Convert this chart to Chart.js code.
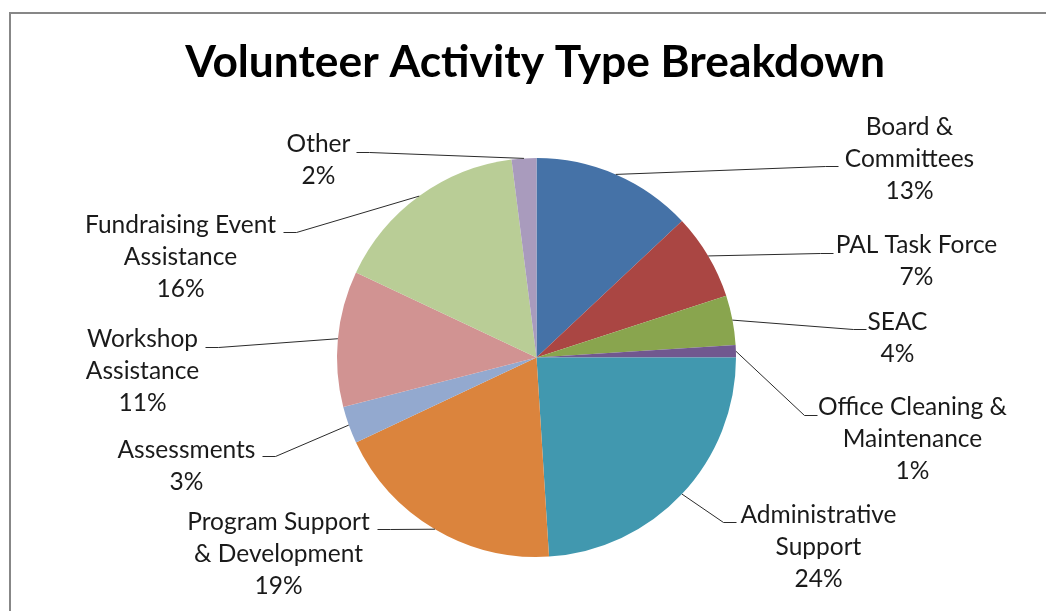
<!DOCTYPE html>
<html>
<head>
<meta charset="utf-8">
<script src="https://cdn.jsdelivr.net/npm/chart.js@4.4.1/dist/chart.umd.min.js"></script>
<style>
  html, body { margin: 0; padding: 0; background: #fff; }
  canvas { display: block; }
</style>
</head>
<body>
<canvas id="chart" width="1046" height="611"></canvas>
<script>
const chartTitle = 'Volunteer Activity Type Breakdown';

const categories = [
  ['Board &', 'Committees'],
  ['PAL Task Force'],
  ['SEAC'],
  ['Office Cleaning &', 'Maintenance'],
  ['Administrative', 'Support'],
  ['Program Support', '& Development'],
  ['Assessments'],
  ['Workshop', 'Assistance'],
  ['Fundraising Event', 'Assistance'],
  ['Other']
];

const shares = [13, 7, 4, 1, 24, 19, 3, 11, 16, 2];

const sliceColors = [
  '#4572A7', '#AA4643', '#89A54E', '#71588F', '#4198AF',
  '#DB843D', '#93A9CF', '#D19392', '#B9CD96', '#A99BBD'
];

// where each label sits, relative to the pie centre:
// tx/ty = centre of the first text line, sx/sy = end of the leader line
const labelSpots = [
  { tx: 373, ty: -230, sx: 302, sy: -191, side: 'right' },
  { tx: 380, ty: -112, sx: 297, sy: -104, side: 'right' },
  { tx: 361, ty: -35, sx: 330, sy: -28, side: 'right' },
  { tx: 376, ty: 50, sx: 281, sy: 58, side: 'right' },
  { tx: 282, ty: 158, sx: 200, sy: 165, side: 'right' },
  { tx: -258, ty: 165, sx: -159, sy: 172, side: 'left' },
  { tx: -350, ty: 93, sx: -274, sy: 99, side: 'left' },
  { tx: -394, ty: -18, sx: -331, sy: -10, side: 'left' },
  { tx: -356, ty: -132, sx: -253, sy: -125, side: 'left' },
  { tx: -218, ty: -213, sx: -180, sy: -205, side: 'left' }
];

const FONT = 'Lato, "Open Sans", sans-serif';

function fitSize(text, weight, width) {
  const c = document.createElement('canvas').getContext('2d');
  c.font = weight + ' 100px ' + FONT;
  return 100 * width / c.measureText(text).width;
}

const titleSize = fitSize(chartTitle, 'bold', 700);
const labelSize = fitSize('Office Cleaning &', 'normal', 189);

// white page, grey frame (cut off at right/bottom like the original) and the title
const frame = {
  id: 'frame',
  beforeDraw(chart) {
    const ctx = chart.ctx;
    ctx.save();
    ctx.fillStyle = '#fff';
    ctx.fillRect(0, 0, chart.width, chart.height);
    ctx.strokeStyle = '#878787';
    ctx.lineWidth = 2;
    ctx.strokeRect(10, 13, 1200, 800);
    ctx.fillStyle = '#000';
    ctx.font = 'bold ' + titleSize + 'px ' + FONT;
    ctx.textAlign = 'center';
    ctx.textBaseline = 'alphabetic';
    ctx.fillText(chartTitle, 535, 77);
    ctx.restore();
  }
};

const leaderLabels = {
  id: 'leaderLabels',
  afterDatasetsDraw(chart) {
    const ctx = chart.ctx;
    const total = shares.reduce((a, b) => a + b, 0);
    const arcs = chart.getDatasetMeta(0).data;
    ctx.save();
    arcs.forEach((arc, i) => {
      const p = arc.getProps(['x', 'y', 'startAngle', 'endAngle', 'outerRadius'], true);
      const mid = (p.startAngle + p.endAngle) / 2;
      const ax = p.x + Math.cos(mid) * p.outerRadius;
      const ay = p.y + Math.sin(mid) * p.outerRadius;
      const spot = labelSpots[i];
      const sx = p.x + spot.sx;
      const sy = p.y + spot.sy;
      const ex = sx + (spot.side === 'right' ? -13 : 13);

      ctx.strokeStyle = '#2b2b2b';
      ctx.lineWidth = 1;
      ctx.beginPath();
      ctx.moveTo(ax, ay);
      ctx.lineTo(ex, sy);
      ctx.lineTo(sx, sy);
      ctx.stroke();

      const lines = categories[i].concat(Math.round(shares[i] / total * 100) + '%');
      ctx.fillStyle = '#1a1a1a';
      ctx.font = labelSize + 'px ' + FONT;
      ctx.textAlign = 'center';
      ctx.textBaseline = 'middle';
      lines.forEach((line, k) => {
        ctx.fillText(line, p.x + spot.tx, p.y + spot.ty + k * 32);
      });
    });
    ctx.restore();
  }
};

new Chart(document.getElementById('chart'), {
  type: 'pie',
  data: {
    labels: categories.map(c => c.join(' ')),
    datasets: [{
      data: shares,
      backgroundColor: sliceColors,
      borderWidth: 0
    }]
  },
  options: {
    responsive: false,
    animation: false,
    layout: { padding: { top: 158, bottom: 54, left: 337, right: 310 } },
    plugins: {
      legend: { display: false },
      tooltip: { enabled: false },
      title: { display: false }
    }
  },
  plugins: [frame, leaderLabels]
});
</script>
</body>
</html>
